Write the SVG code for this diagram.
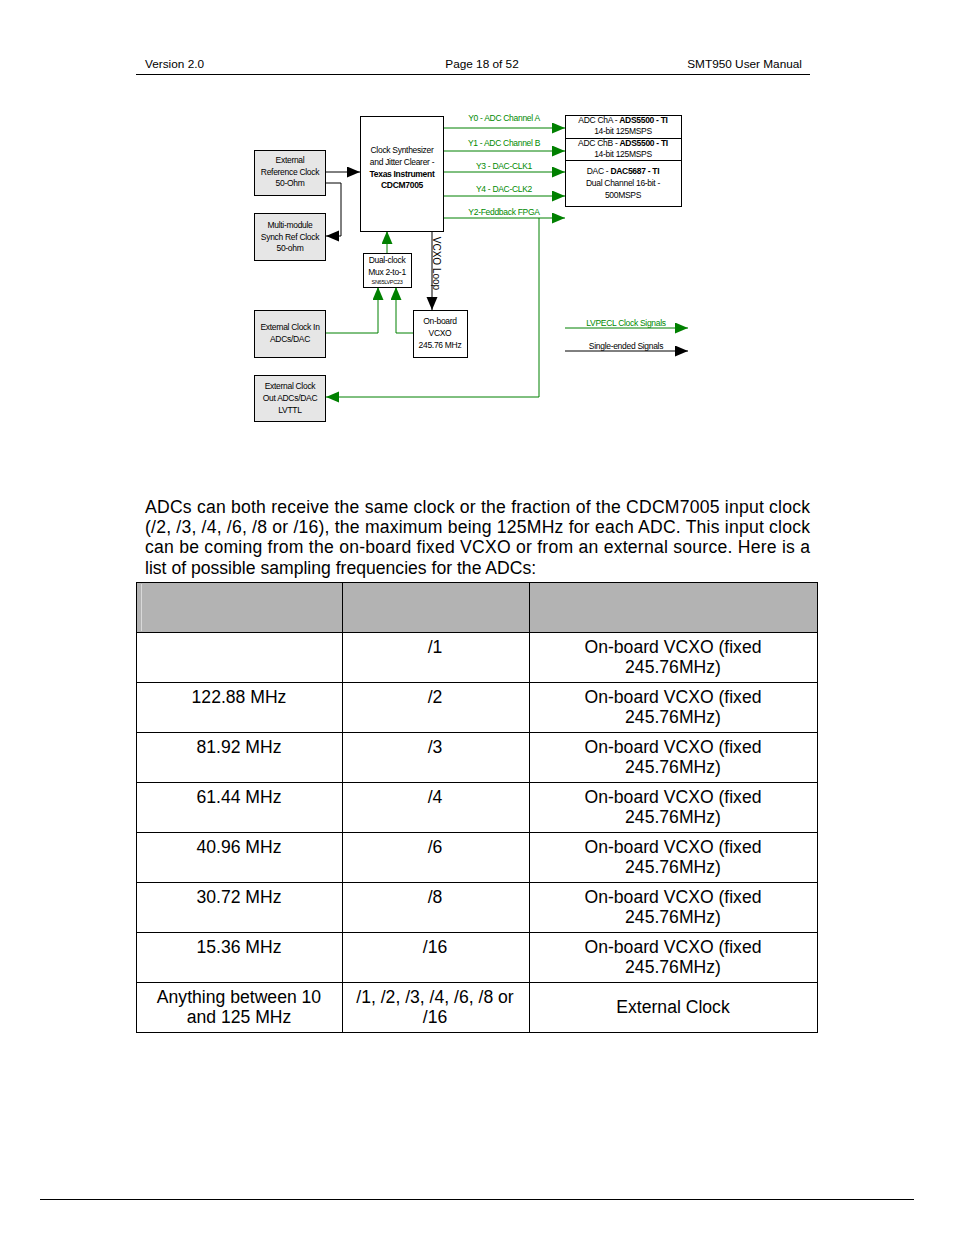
<svg xmlns="http://www.w3.org/2000/svg" width="954" height="1235" viewBox="0 0 954 1235">
<style>
.hdr{font-family:"Liberation Sans",Arial,sans-serif;font-size:11.8px;fill:#000}
.d{font-family:"Liberation Sans",Arial,sans-serif;font-size:8.5px;fill:#000;text-anchor:middle;letter-spacing:-0.3px}
.g{fill:#008a00}
.b{font-weight:bold}
.box{fill:#fff;stroke:#000;stroke-width:1}
.gbox{fill:#e6e6e6;stroke:#000;stroke-width:1}
.k{fill:none;stroke:#000;stroke-width:1}
.gl{fill:none;stroke:#008000;stroke-width:1}
.p{font-family:"Liberation Sans",Arial,sans-serif;font-size:17.6px;fill:#000}
.t{font-family:"Liberation Sans",Arial,sans-serif;font-size:17.6px;fill:#000;text-anchor:middle}
.grid{stroke:#000;stroke-width:1;fill:none}
</style>
<defs>
<marker id="ak" markerUnits="userSpaceOnUse" markerWidth="14" markerHeight="12" refX="13" refY="5.5" orient="auto"><path d="M0,0 L13,5.5 L0,11 z" fill="#000"/></marker>
<marker id="ag" markerUnits="userSpaceOnUse" markerWidth="14" markerHeight="12" refX="13" refY="5.5" orient="auto"><path d="M0,0 L13,5.5 L0,11 z" fill="#008000"/></marker>
</defs>
<rect width="954" height="1235" fill="#fff"/>
<g id="header">
<text class="hdr" x="145" y="68">Version 2.0</text>
<text class="hdr" x="482" y="68" text-anchor="middle">Page 18 of 52</text>
<text class="hdr" x="802" y="68" text-anchor="end">SMT950 User Manual</text>
<line x1="136" y1="74.5" x2="810" y2="74.5" stroke="#000" stroke-width="1"/>
</g>
<g id="connectors">
<path class="k" d="M326,172 H360" marker-end="url(#ak)"/>
<path class="k" d="M326,183 H341 V236 H326" marker-end="url(#ak)"/>
<path class="gl" d="M387,253 V231" marker-end="url(#ag)"/>
<path class="k" d="M432,231 V310" marker-end="url(#ak)"/>
<path class="gl" d="M326,333 H378 V287" marker-end="url(#ag)"/>
<path class="gl" d="M413,333 H396 V287" marker-end="url(#ag)"/>
<path class="gl" d="M444,128 H565" marker-end="url(#ag)"/>
<path class="gl" d="M444,151 H565" marker-end="url(#ag)"/>
<path class="gl" d="M444,172 H565" marker-end="url(#ag)"/>
<path class="gl" d="M444,196 H565" marker-end="url(#ag)"/>
<path class="gl" d="M444,218 H565" marker-end="url(#ag)"/>
<path class="gl" d="M539,218 V397 H326" marker-end="url(#ag)"/>
<path class="gl" d="M565,328 H688" marker-end="url(#ag)"/>
<path class="k" d="M565,351 H688" marker-end="url(#ak)"/>
<text class="d g" x="504" y="121">Y0 - ADC Channel A</text>
<text class="d g" x="504" y="146">Y1 - ADC Channel B</text>
<text class="d g" x="504" y="169">Y3 - DAC-CLK1</text>
<text class="d g" x="504" y="192">Y4 - DAC-CLK2</text>
<text class="d g" x="504" y="215">Y2-Feddback FPGA</text>
<text class="d" transform="translate(433,263.5) rotate(90)" style="font-size:10px;letter-spacing:0">VCXO Loop</text>
<text class="d g" x="626" y="326">LVPECL Clock Signals</text>
<text class="d" x="626" y="349">Single-ended Signals</text>
</g>
<g id="extref">
<rect class="gbox" x="254.5" y="150.5" width="71" height="45"/>
<text class="d" x="290" y="163">External</text>
<text class="d" x="290" y="175">Reference Clock</text>
<text class="d" x="290" y="186">50-Ohm</text>
</g>
<g id="multimodule">
<rect class="gbox" x="254.5" y="213.5" width="71" height="47"/>
<text class="d" x="290" y="228">Multi-module</text>
<text class="d" x="290" y="240">Synch Ref Clock</text>
<text class="d" x="290" y="251">50-ohm</text>
</g>
<g id="extin">
<rect class="gbox" x="254.5" y="310.5" width="71" height="47"/>
<text class="d" x="290" y="330">External Clock In</text>
<text class="d" x="290" y="342">ADCs/DAC</text>
</g>
<g id="extout">
<rect class="gbox" x="254.5" y="375.5" width="71" height="46"/>
<text class="d" x="290" y="389">External Clock</text>
<text class="d" x="290" y="401">Out ADCs/DAC</text>
<text class="d" x="290" y="413">LVTTL</text>
</g>
<g id="synth">
<rect class="box" x="360.5" y="116.5" width="83" height="115"/>
<text class="d" x="402" y="153">Clock Synthesizer</text>
<text class="d" x="402" y="165">and Jitter Clearer -</text>
<text class="d b" x="402" y="177">Texas Instrument</text>
<text class="d b" x="402" y="188">CDCM7005</text>
</g>
<g id="mux">
<rect class="box" x="363.5" y="253.5" width="48" height="34"/>
<text class="d" x="387" y="263">Dual-clock</text>
<text class="d" x="387" y="275">Mux 2-to-1</text>
<text class="d" x="387" y="284" style="font-size:5.5px">SN65LVPC23</text>
</g>
<g id="vcxo">
<rect class="box" x="413.5" y="310.5" width="54" height="47"/>
<text class="d" x="440" y="324">On-board</text>
<text class="d" x="440" y="336">VCXO</text>
<text class="d" x="440" y="348">245.76 MHz</text>
</g>
<g id="adca">
<rect class="box" x="565.5" y="115.5" width="116" height="23"/>
<text class="d" x="623" y="123">ADC ChA - <tspan class="b">ADS5500 - TI</tspan></text>
<text class="d" x="623" y="134">14-bit 125MSPS</text>
</g>
<g id="adcb">
<rect class="box" x="565.5" y="138.5" width="116" height="22"/>
<text class="d" x="623" y="146">ADC ChB - <tspan class="b">ADS5500 - TI</tspan></text>
<text class="d" x="623" y="157">14-bit 125MSPS</text>
</g>
<g id="dac">
<rect class="box" x="565.5" y="160.5" width="116" height="46"/>
<text class="d" x="623" y="174">DAC - <tspan class="b">DAC5687 - TI</tspan></text>
<text class="d" x="623" y="186">Dual Channel 16-bit -</text>
<text class="d" x="623" y="198">500MSPS</text>
</g>
<g id="paragraph">
<text class="p" x="145" y="513" textLength="665" lengthAdjust="spacing">ADCs can both receive the same clock or the fraction of the CDCM7005 input clock</text>
<text class="p" x="145" y="533" textLength="665" lengthAdjust="spacing">(/2, /3, /4, /6, /8 or /16), the maximum being 125MHz for each ADC. This input clock</text>
<text class="p" x="145" y="553" textLength="665" lengthAdjust="spacing">can be coming from the on-board fixed VCXO or from an external source. Here is a</text>
<text class="p" x="145" y="574">list of possible sampling frequencies for the ADCs:</text>
</g>
<g id="table">
<rect x="136.5" y="582.5" width="681" height="50" fill="#b3b3b3"/>
<line x1="141.5" y1="584" x2="141.5" y2="631" stroke="#d9d9d9" stroke-width="1"/>
<rect class="grid" x="136.5" y="582.5" width="681" height="450"/>
<path class="grid" d="M342.5,582.5 V1032.5 M529.5,582.5 V1032.5 M136.5,632.5 H817.5 M136.5,682.5 H817.5 M136.5,732.5 H817.5 M136.5,782.5 H817.5 M136.5,832.5 H817.5 M136.5,882.5 H817.5 M136.5,932.5 H817.5 M136.5,982.5 H817.5"/>
<text class="t" x="435" y="653">/1</text>
<text class="t" x="673" y="653">On-board VCXO (fixed</text>
<text class="t" x="673" y="673">245.76MHz)</text>
<text class="t" x="239" y="703">122.88 MHz</text>
<text class="t" x="435" y="703">/2</text>
<text class="t" x="673" y="703">On-board VCXO (fixed</text>
<text class="t" x="673" y="723">245.76MHz)</text>
<text class="t" x="239" y="753">81.92 MHz</text>
<text class="t" x="435" y="753">/3</text>
<text class="t" x="673" y="753">On-board VCXO (fixed</text>
<text class="t" x="673" y="773">245.76MHz)</text>
<text class="t" x="239" y="803">61.44 MHz</text>
<text class="t" x="435" y="803">/4</text>
<text class="t" x="673" y="803">On-board VCXO (fixed</text>
<text class="t" x="673" y="823">245.76MHz)</text>
<text class="t" x="239" y="853">40.96 MHz</text>
<text class="t" x="435" y="853">/6</text>
<text class="t" x="673" y="853">On-board VCXO (fixed</text>
<text class="t" x="673" y="873">245.76MHz)</text>
<text class="t" x="239" y="903">30.72 MHz</text>
<text class="t" x="435" y="903">/8</text>
<text class="t" x="673" y="903">On-board VCXO (fixed</text>
<text class="t" x="673" y="923">245.76MHz)</text>
<text class="t" x="239" y="953">15.36 MHz</text>
<text class="t" x="435" y="953">/16</text>
<text class="t" x="673" y="953">On-board VCXO (fixed</text>
<text class="t" x="673" y="973">245.76MHz)</text>
<text class="t" x="239" y="1003">Anything between 10</text>
<text class="t" x="239" y="1023">and 125 MHz</text>
<text class="t" x="435" y="1003">/1, /2, /3, /4, /6, /8 or</text>
<text class="t" x="435" y="1023">/16</text>
<text class="t" x="673" y="1013">External Clock</text>
</g>
<g id="footer">
<line x1="40" y1="1199.5" x2="914" y2="1199.5" stroke="#000" stroke-width="1"/>
</g>
</svg>
